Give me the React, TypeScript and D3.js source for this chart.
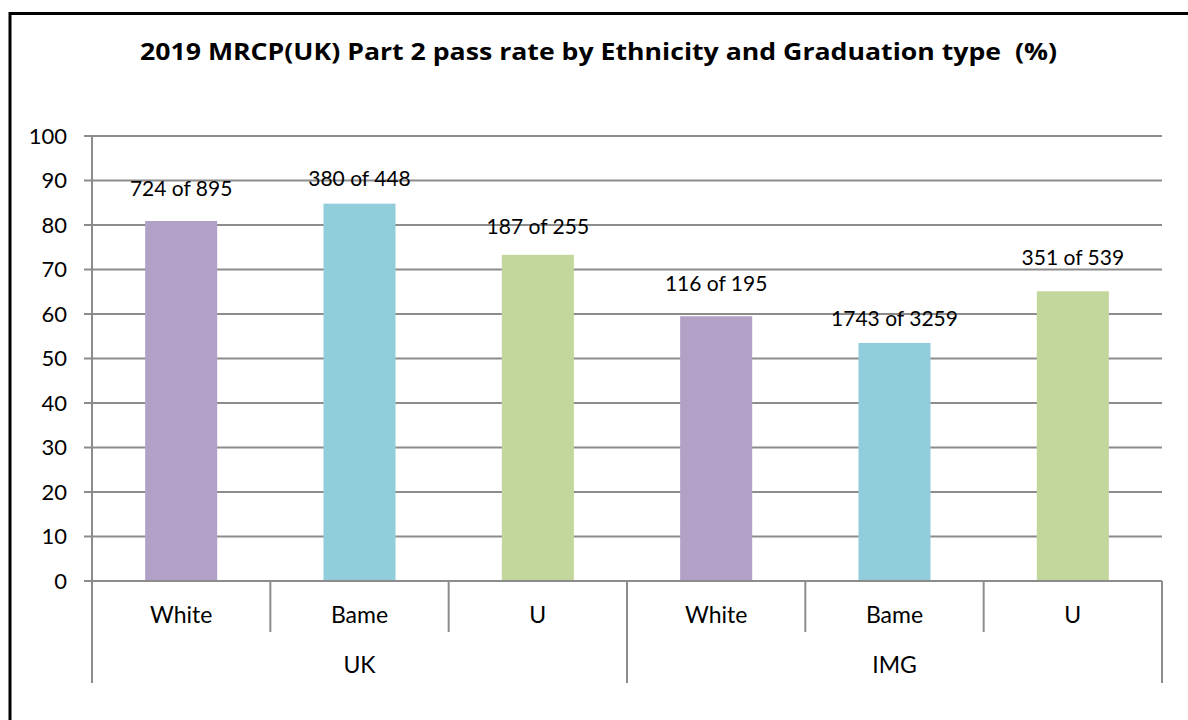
import React from "react";
import * as d3 from "d3";

const title = "2019 MRCP(UK) Part 2 pass rate by Ethnicity and Graduation type  (%)";
const groups = ["UK", "IMG"];
const ethnicities = ["White", "Bame", "U"];
const categories = ["UK|White", "UK|Bame", "UK|U", "IMG|White", "IMG|Bame", "IMG|U"];
const passRates = [80.9, 84.8, 73.3, 59.5, 53.5, 65.1];
const dataLabels = ["724 of 895", "380 of 448", "187 of 255", "116 of 195", "1743 of 3259", "351 of 539"];
const yTicks = [0, 10, 20, 30, 40, 50, 60, 70, 80, 90, 100];

// styling (not data)
const colors = ["#B2A1C7", "#92CDDC", "#C3D69B"];
const labelLift = [25, 18, 21, 25, 17, 26];

const W = 1188;
const H = 720;
const left = 92;
const right = 1162;
const top = 136;
const bottom = 581;
const font = "Lato, 'Open Sans', sans-serif";
const grid = "#8C8C8C";

export default function App() {
  const x = d3.scaleBand<string>().domain(categories).range([left, right]).padding(0);
  const y = d3.scaleLinear().domain([0, 100]).range([bottom, top]);
  const bw = x.bandwidth() * 0.404;
  const groupSize = ethnicities.length;

  return (
    <svg
      width={W}
      height={H}
      style={{ position: "absolute", left: 0, top: 0, background: "#fff" }}
      fontFamily={font}
    >
      <rect x={0} y={0} width={W} height={H} fill="#fff" />
      <rect x={10} y={13.5} width={W + 20} height={H + 20} fill="none" stroke="#000" strokeWidth={3} />
      <text
        x={140}
        y={59.5}
        textAnchor="start"
        fontSize={24}
        fontWeight="bold"
        fill="#000"
        fontFamily="'Open Sans', Lato, sans-serif"
        textLength={917}
        lengthAdjust="spacingAndGlyphs"
        style={{ whiteSpace: "pre" }}
        xmlSpace="preserve"
      >
        {title}
      </text>

      {yTicks.map((t) => (
        <g key={t}>
          <line x1={84} x2={right} y1={y(t)} y2={y(t)} stroke={grid} strokeWidth={2} />
          <text x={67} y={y(t) + 7.5} textAnchor="end" fontSize={22} fill="#000">
            {t}
          </text>
        </g>
      ))}
      <line x1={left} x2={left} y1={top} y2={683} stroke={grid} strokeWidth={2} />

      {categories.map((c, i) => (
        <rect
          key={c}
          x={(x(c) as number) + (x.bandwidth() - bw) / 2}
          y={y(passRates[i])}
          width={bw}
          height={y(0) - y(passRates[i])}
          fill={colors[i % groupSize]}
        />
      ))}
      <line x1={84} x2={right} y1={y(0)} y2={y(0)} stroke={grid} strokeWidth={2} />

      {categories.map((c, i) => (
        <text
          key={"l" + c}
          x={(x(c) as number) + x.bandwidth() / 2}
          y={y(passRates[i]) - labelLift[i]}
          textAnchor="middle"
          fontSize={21}
          fill="#000"
        >
          {dataLabels[i]}
        </text>
      ))}

      {categories.map((c, i) => {
        const xe = (x(c) as number) + x.bandwidth();
        const isGroupEnd = (i + 1) % groupSize === 0;
        return (
          <line key={"s" + c} x1={xe} x2={xe} y1={bottom} y2={isGroupEnd ? 683 : 632} stroke={grid} strokeWidth={2} />
        );
      })}

      {categories.map((c, i) => (
        <text
          key={"c" + c}
          x={(x(c) as number) + x.bandwidth() / 2}
          y={623}
          textAnchor="middle"
          fontSize={23}
          fill="#000"
        >
          {ethnicities[i % groupSize]}
        </text>
      ))}

      {groups.map((g, gi) => {
        const x0 = x(categories[gi * groupSize]) as number;
        const x1 = (x(categories[gi * groupSize + groupSize - 1]) as number) + x.bandwidth();
        return (
          <text key={g} x={(x0 + x1) / 2} y={673} textAnchor="middle" fontSize={23} fill="#000">
            {g}
          </text>
        );
      })}
    </svg>
  );
}
